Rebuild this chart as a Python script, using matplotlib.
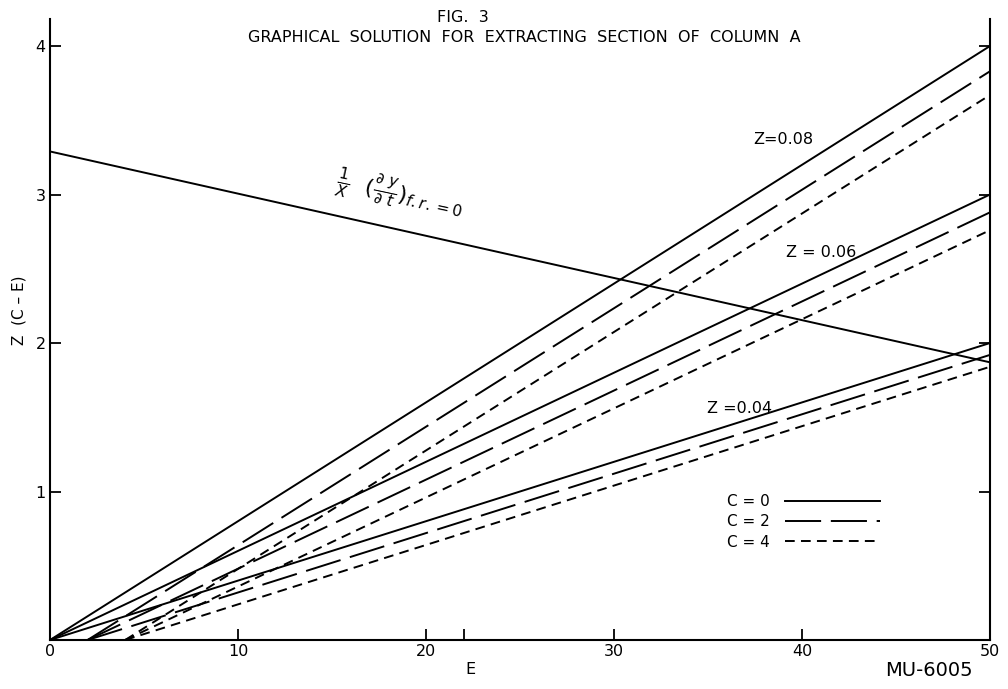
import numpy as np
import matplotlib
matplotlib.use('Agg')
import matplotlib.pyplot as plt

# values
c_values = [0, 2, 4]          # each line starts on the axis at E = C
e_end = 50
z08_end = [4.00, 3.83, 3.67]  # Z(E-C) at E = 50
z06_end = [3.00, 2.88, 2.76]
z04_end = [2.00, 1.92, 1.84]
fr_e = [0, 50]
fr_y = [3.29, 1.87]

x_ticks = [0, 10, 20, 30, 40, 50]
y_ticks = [1, 2, 3, 4]

plt.rcParams['font.family'] = ['DejaVu Sans']
plt.rcParams['lines.scale_dashes'] = False

fig = plt.figure(figsize=(10.08, 6.89), dpi=100)
ax = fig.add_axes([50 / 1008, 49 / 689, 940 / 1008, 620.7 / 689])

dash_styles = [None, (26, 7), (7, 4.5)]
lw = 1.4

for ends in [z08_end, z06_end, z04_end]:
    for c, y_end, ds in zip(c_values, ends, dash_styles):
        line, = ax.plot([c, e_end], [0, y_end], color='black', lw=lw,
                        solid_capstyle='butt')
        if ds is not None:
            line.set_dashes(ds)

ax.plot(fr_e, fr_y, color='black', lw=lw)

# legend (handles drawn to the right of the labels)
handles = []
for ds in dash_styles:
    h, = ax.plot([], [], color='black', lw=lw)
    if ds is not None:
        h.set_dashes(ds)
    handles.append(h)
ax.legend(handles, ['C = 0', 'C = 2', 'C = 4'], loc='upper left',
          bbox_to_anchor=(0.72, 0.235), frameon=False, markerfirst=False,
          handlelength=6.2, handletextpad=1.0, labelspacing=0.35,
          borderpad=0, borderaxespad=0, fontsize=11)

ax.text(39.0, 3.37, 'Z=0.08', ha='center', va='center', fontsize=11.5)
ax.text(41.0, 2.61, 'Z = 0.06', ha='center', va='center', fontsize=11.5)
ax.text(36.7, 1.56, 'Z =0.04', ha='center', va='center', fontsize=11.5)
ax.text(18.6, 3.0,
        r'$\frac{1}{X}\ \ (\frac{\partial\ y}{\partial\ t})_{f.r.=0}$',
        ha='center', va='center', rotation=-12, fontsize=16,
        rotation_mode='anchor')

ax.set_xlim(0, 50)
ax.set_ylim(0, 4.18)
ax.set_xticks(x_ticks)
ax.set_xticks([22], minor=True)
ax.set_yticks(y_ticks)
ax.tick_params(direction='in', length=8, width=1.3, labelsize=11.5,
               right=True, labelright=False, pad=3)
ax.tick_params(which='minor', direction='in', length=8, width=1.3)
for s in ['left', 'bottom', 'right']:
    ax.spines[s].set_linewidth(1.5)
ax.spines['top'].set_visible(False)

fig.text(463 / 1008, 1 - 18 / 689, 'FIG.  3', ha='center', va='center',
         fontsize=11.5)
fig.text(524 / 1008, 1 - 37 / 689,
         'GRAPHICAL  SOLUTION  FOR  EXTRACTING  SECTION  OF  COLUMN  A',
         ha='center', va='center', fontsize=11.5)
fig.text(19 / 1008, 1 - 310 / 689, 'Z  (C \u2013 E)', rotation=90,
         ha='center', va='center', fontsize=11)
fig.text(470 / 1008, 1 - 669 / 689, 'E', ha='center', va='center',
         fontsize=11.5)
fig.text(929 / 1008, 1 - 670 / 689, 'MU-6005', ha='center', va='center',
         fontsize=14)

fig.savefig('out.png', dpi=100)
